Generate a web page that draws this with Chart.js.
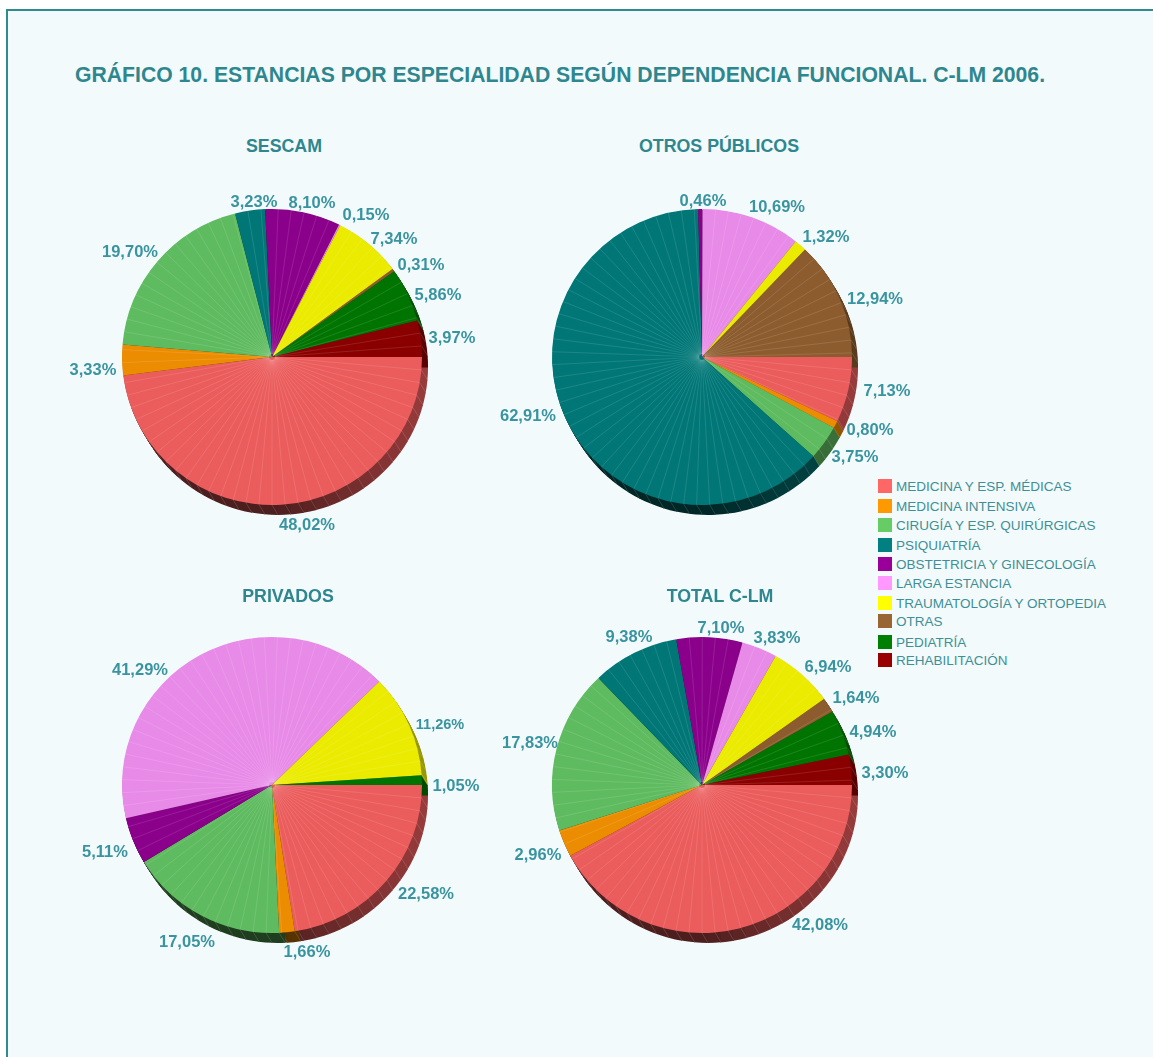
<!DOCTYPE html>
<html lang="es">
<head>
<meta charset="utf-8">
<title>Gráfico 10</title>
<script src="https://cdn.jsdelivr.net/npm/chart.js@4/dist/chart.umd.js"></script>
<style>
  html, body { margin: 0; padding: 0; background: #fff; overflow: hidden; }
  body { width: 1153px; height: 1057px; position: relative; font-family: "Liberation Sans", Arial, sans-serif; color: #2e868e; }
  #box { position: absolute; left: 6px; top: 9px; width: 1300px; height: 1200px; background: #f3fafc; border: 2px solid #2e8b92; box-sizing: border-box; }
  #mainTitle { position: absolute; left: 75px; top: 63px; margin: 0; font-size: 21.2px; font-weight: bold; white-space: nowrap; }
  .pieTitle { position: absolute; width: 300px; margin: 0; font-size: 17.8px; font-weight: bold; text-align: center; }
  canvas { position: absolute; }
  #legend { position: absolute; left: 878px; top: 476px; }
  .legendRow { position: absolute; left: 0; white-space: nowrap; font-size: 13.5px; line-height: 14px; color: #3f8f96; }
  .legendRow i { position: absolute; left: 0; top: 1px; width: 14px; height: 14px; }
  .legendRow span { position: absolute; left: 18px; top: 2px; }
</style>
</head>
<body>
<div id="box"></div>
<h1 id="mainTitle">GRÁFICO 10. ESTANCIAS POR ESPECIALIDAD SEGÚN DEPENDENCIA FUNCIONAL. C-LM 2006.</h1>
<div id="legend"></div>
<script>
const categories = [
  "MEDICINA Y ESP. MÉDICAS", "MEDICINA INTENSIVA", "CIRUGÍA Y ESP. QUIRÚRGICAS", "PSIQUIATRÍA",
  "OBSTETRICIA Y GINECOLOGÍA", "LARGA ESTANCIA", "TRAUMATOLOGÍA Y ORTOPEDIA", "OTRAS", "PEDIATRÍA", "REHABILITACIÓN"
];
const sescam = [48.02, 3.33, 19.70, 3.23, 8.10, 0.15, 7.34, 0.31, 5.86, 3.97];
const otrosPublicos = [7.13, 0.80, 3.75, 62.91, 0.46, 10.69, 1.32, 12.94, 0, 0];
const privados = [22.58, 1.66, 17.05, 0, 5.11, 41.29, 11.26, 0, 1.05, 0];
const totalClm = [42.08, 2.96, 17.83, 9.38, 7.10, 3.83, 6.94, 1.64, 4.94, 3.30];

const legendColors = ["#ff6666", "#ff9900", "#66cc66", "#008080", "#990099", "#ff99ff", "#ffff00", "#996633", "#008000", "#990000"];
const sliceColors = ["#eb5c5c", "#ec8c00", "#5fbb5f", "#007676", "#8a008a", "#e88ae8", "#ebeb00", "#8c5c2e", "#007400", "#8a0000"];
const legendRows = [486, 506, 525, 545, 564, 583, 603, 621, 642, 660];

// where each percentage sits, relative to the pie centre (hand placed in the original)
const sescamLabelSpots = [[35,167],[-179,12],[-142,-106],[-18,-156],[40,-155],[94,-143],[122,-119],[149,-93],[166,-63],[180,-20]];
const otrosLabelSpots = [[185,33],[168,72],[153,99],[-174,58],[1,-157],[75,-151],[124,-121],[173,-59],null,null];
const privadosLabelSpots = [[154,108],[35,166],[-85,156],null,[-167,66],[-132,-116],[168,-61],null,[184,0],null];
const totalLabelSpots = [[118,139],[-164,69],[-172,-43],[-73,-149],[19,-158],[75,-148],[126,-119],[154,-88],[171,-54],[183,-13]];

const pies = [
  { id: "sescam", title: "SESCAM", data: sescam, spots: sescamLabelSpots, cx: 272, cy: 357, titleX: 284, titleY: 145 },
  { id: "otros", title: "OTROS PÚBLICOS", data: otrosPublicos, spots: otrosLabelSpots, cx: 702, cy: 357, titleX: 719, titleY: 145 },
  { id: "privados", title: "PRIVADOS", data: privados, spots: privadosLabelSpots, cx: 272, cy: 785, titleX: 288, titleY: 595 },
  { id: "total", title: "TOTAL C-LM", data: totalClm, spots: totalLabelSpots, cx: 702, cy: 785, titleX: 720, titleY: 595 }
];

const CANVAS_SIZE = 480;
const RADIUS = 150;
const FLATTEN = 0.987; // the original pie is very slightly squashed
const DEPTH_X = 6, DEPTH_Y = 10;
const FACET = Math.PI / 36; // the original pie is built out of thin wedges, about 5 degrees each

function shade(hex, f) {
  const n = parseInt(hex.slice(1), 16);
  return `rgb(${((n >> 16) & 255) * f | 0},${((n >> 8) & 255) * f | 0},${(n & 255) * f | 0})`;
}

// side of the pie: darker toward the lower left, facet lines on it
const depthPlugin = {
  id: "depth",
  beforeDatasetsDraw(chart) {
    const ctx = chart.ctx;
    const arcs = chart.getDatasetMeta(0).data;
    const cy = arcs[0].y;
    ctx.save();
    ctx.translate(0, cy);
    ctx.scale(1, FLATTEN);
    ctx.translate(0, -cy);
    arcs.forEach((arc, i) => {
      const { x, y, startAngle, endAngle, outerRadius } = arc.getProps(["x", "y", "startAngle", "endAngle", "outerRadius"]);
      for (let a = startAngle; a < endAngle; a += FACET) {
        const b = Math.min(a + FACET, endAngle);
        const mid = (a + b) / 2;
        ctx.fillStyle = shade(sliceColors[i], 0.33 + 0.32 * Math.max(0, Math.cos(mid)));
        for (let d = 1; d <= 10; d++) {
          const ox = x + DEPTH_X * d / 10, oy = y + DEPTH_Y * d / 10;
          ctx.beginPath();
          ctx.moveTo(ox, oy);
          ctx.arc(ox, oy, outerRadius, a, b + 0.005);
          ctx.closePath();
          ctx.fill();
        }
        ctx.strokeStyle = "rgba(255,255,255,0.2)";
        ctx.lineWidth = 0.7;
        ctx.beginPath();
        ctx.moveTo(x + outerRadius * Math.cos(a), y + outerRadius * Math.sin(a));
        ctx.lineTo(x + DEPTH_X + outerRadius * Math.cos(a), y + DEPTH_Y + outerRadius * Math.sin(a));
        ctx.stroke();
      }
    });
  }
};

// thin lines between the wedges, then the percentages
const facetPlugin = {
  id: "facets",
  afterDatasetsDraw(chart) {
    const ctx = chart.ctx;
    const pie = chart.options.plugins.facets;
    const arcs = chart.getDatasetMeta(0).data;
    arcs.forEach((arc) => {
      const { x, y, startAngle, endAngle, outerRadius } = arc.getProps(["x", "y", "startAngle", "endAngle", "outerRadius"]);
      ctx.lineWidth = 0.5;
      ctx.strokeStyle = "rgba(255,255,255,0.24)";
      for (let a = startAngle + FACET; a < endAngle - 0.01; a += FACET) {
        ctx.beginPath();
        ctx.moveTo(x + 3 * Math.cos(a), y + 3 * Math.sin(a));
        ctx.lineTo(x + outerRadius * Math.cos(a), y + outerRadius * Math.sin(a));
        ctx.stroke();
      }
    });
    ctx.restore(); // from depthPlugin, labels are not squashed

    arcs.forEach((arc, i) => {
      const spot = pie.spots[i];
      if (!spot) return;
      const value = pie.values[i];
      ctx.font = `bold ${value === 11.26 ? 14.5 : 16.5}px "Liberation Sans", Arial, sans-serif`;
      ctx.fillStyle = "#3a94a0";
      ctx.textAlign = "center";
      ctx.textBaseline = "middle";
      ctx.fillText(value.toFixed(2).replace(".", ",") + "%", arc.x + spot[0], arc.y + spot[1] + 1);
    });
  }
};

pies.forEach((p) => {
  const heading = document.createElement("h2");
  heading.className = "pieTitle";
  heading.textContent = p.title;
  heading.style.left = (p.titleX - 150) + "px";
  heading.style.top = (p.titleY - 9) + "px";
  document.body.appendChild(heading);

  const canvas = document.createElement("canvas");
  canvas.id = p.id;
  canvas.width = CANVAS_SIZE;
  canvas.height = CANVAS_SIZE;
  canvas.style.left = (p.cx - CANVAS_SIZE / 2) + "px";
  canvas.style.top = (p.cy - CANVAS_SIZE / 2) + "px";
  document.body.appendChild(canvas);

  new Chart(canvas, {
    type: "pie",
    data: {
      labels: categories,
      datasets: [{ data: p.data, backgroundColor: sliceColors, borderWidth: 0 }]
    },
    options: {
      responsive: false,
      animation: false,
      rotation: 90,
      layout: { padding: CANVAS_SIZE / 2 - RADIUS },
      plugins: {
        legend: { display: false },
        tooltip: { enabled: false },
        facets: { spots: p.spots, values: p.data }
      }
    },
    plugins: [depthPlugin, facetPlugin]
  });
});

const legend = document.getElementById("legend");
categories.forEach((name, i) => {
  const row = document.createElement("div");
  row.className = "legendRow";
  row.style.top = (legendRows[i] - 486 + 2) + "px";
  row.innerHTML = `<i style="background:${legendColors[i]}"></i><span>${name}</span>`;
  legend.appendChild(row);
});
</script>
</body>
</html>
